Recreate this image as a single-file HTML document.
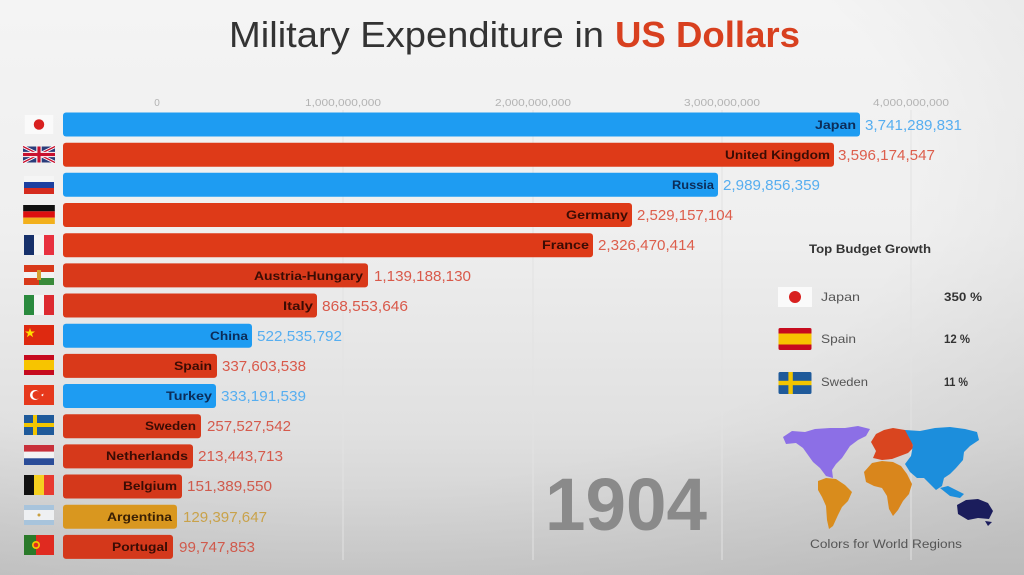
<!DOCTYPE html>
<html><head><meta charset="utf-8">
<style>
html,body{margin:0;padding:0;width:1024px;height:575px;overflow:hidden;}
svg{display:block;font-family:"Liberation Sans",sans-serif;}
</style></head>
<body>
<svg width="1024" height="575" viewBox="0 0 1024 575" xmlns="http://www.w3.org/2000/svg">
<defs>
<linearGradient id="bg" x1="0" y1="0" x2="0" y2="1">
<stop offset="0" stop-color="#f4f4f4"/>
<stop offset="0.4" stop-color="#efefef"/>
<stop offset="0.75" stop-color="#e0e0e0"/>
<stop offset="1" stop-color="#cbcbcb"/>
</linearGradient>
<radialGradient id="vig" cx="0.35" cy="0.3" r="0.9">
<stop offset="0.6" stop-color="#000" stop-opacity="0"/>
<stop offset="1" stop-color="#000" stop-opacity="0.08"/>
</radialGradient>
</defs>
<rect width="1024" height="575" fill="url(#bg)"/>
<rect width="1024" height="575" fill="url(#vig)"/>

<!-- Title -->
<text x="229" y="47" font-size="36" fill="#333" textLength="375" lengthAdjust="spacingAndGlyphs">Military Expenditure in</text>
<text x="615" y="47" font-size="36" font-weight="bold" fill="#d8401f" textLength="185" lengthAdjust="spacingAndGlyphs">US Dollars</text>

<!-- gridlines -->
<g stroke="#e2e2e2" stroke-width="1">
<line x1="343" y1="110" x2="343" y2="560"/>
<line x1="533" y1="110" x2="533" y2="560"/>
<line x1="722" y1="110" x2="722" y2="560"/>
<line x1="911" y1="110" x2="911" y2="560"/>
</g>

<!-- ticks -->
<g font-size="10" fill="#b3b3b3" text-anchor="middle">
<text x="157" y="106">0</text>
<text x="343" y="106" textLength="76" lengthAdjust="spacingAndGlyphs">1,000,000,000</text>
<text x="533" y="106" textLength="76" lengthAdjust="spacingAndGlyphs">2,000,000,000</text>
<text x="722" y="106" textLength="76" lengthAdjust="spacingAndGlyphs">3,000,000,000</text>
<text x="911" y="106" textLength="76" lengthAdjust="spacingAndGlyphs">4,000,000,000</text>
</g>

<!-- Bars -->
<g>
<rect x="63" y="112.5" width="797" height="24" rx="3" fill="#1e9cf2"/>
<rect x="63" y="142.7" width="771" height="24" rx="3" fill="#de3a18"/>
<rect x="63" y="172.8" width="655" height="24" rx="3" fill="#1e9cf2"/>
<rect x="63" y="203.0" width="569" height="24" rx="3" fill="#de3a18"/>
<rect x="63" y="233.2" width="530" height="24" rx="3" fill="#de3a18"/>
<rect x="63" y="263.4" width="305" height="24" rx="3" fill="#d9391a"/>
<rect x="63" y="293.5" width="254" height="24" rx="3" fill="#d9391a"/>
<rect x="63" y="323.7" width="189" height="24" rx="3" fill="#1e9cf2"/>
<rect x="63" y="353.9" width="154" height="24" rx="3" fill="#d9391a"/>
<rect x="63" y="384.0" width="153" height="24" rx="3" fill="#1e9cf2"/>
<rect x="63" y="414.2" width="138" height="24" rx="3" fill="#d6391b"/>
<rect x="63" y="444.4" width="130" height="24" rx="3" fill="#d6391b"/>
<rect x="63" y="474.5" width="119" height="24" rx="3" fill="#d4381b"/>
<rect x="63" y="504.7" width="114" height="24" rx="3" fill="#d9971f"/>
<rect x="63" y="534.9" width="110" height="24" rx="3" fill="#d4381b"/>
</g>

<!-- Bar labels -->
<g font-size="12" font-weight="bold" lengthAdjust="spacingAndGlyphs">
<text x="815" y="129" fill="#0c2c58" textLength="41" lengthAdjust="spacingAndGlyphs">Japan</text>
<text x="725" y="159" fill="#3a0c04" textLength="105" lengthAdjust="spacingAndGlyphs">United Kingdom</text>
<text x="672" y="189" fill="#0c2c58" textLength="42" lengthAdjust="spacingAndGlyphs">Russia</text>
<text x="566" y="219" fill="#3a0c04" textLength="62" lengthAdjust="spacingAndGlyphs">Germany</text>
<text x="542" y="249" fill="#3a0c04" textLength="47" lengthAdjust="spacingAndGlyphs">France</text>
<text x="254" y="280" fill="#3a0c04" textLength="109" lengthAdjust="spacingAndGlyphs">Austria-Hungary</text>
<text x="283" y="310" fill="#3a0c04" textLength="30" lengthAdjust="spacingAndGlyphs">Italy</text>
<text x="210" y="340" fill="#0c2c58" textLength="38" lengthAdjust="spacingAndGlyphs">China</text>
<text x="174" y="370" fill="#3a0c04" textLength="38" lengthAdjust="spacingAndGlyphs">Spain</text>
<text x="166" y="400" fill="#0c2c58" textLength="46" lengthAdjust="spacingAndGlyphs">Turkey</text>
<text x="145" y="430" fill="#3a0c04" textLength="51" lengthAdjust="spacingAndGlyphs">Sweden</text>
<text x="106" y="460" fill="#3a0c04" textLength="82" lengthAdjust="spacingAndGlyphs">Netherlands</text>
<text x="123" y="490" fill="#3a0c04" textLength="54" lengthAdjust="spacingAndGlyphs">Belgium</text>
<text x="107" y="521" fill="#3a2004" textLength="65" lengthAdjust="spacingAndGlyphs">Argentina</text>
<text x="112" y="551" fill="#3a0c04" textLength="56" lengthAdjust="spacingAndGlyphs">Portugal</text>
</g>

<!-- Values -->
<g font-size="15">
<text x="865" y="130" fill="#56aef0" textLength="97" lengthAdjust="spacingAndGlyphs">3,741,289,831</text>
<text x="838" y="160" fill="#dd5e4c" textLength="97" lengthAdjust="spacingAndGlyphs">3,596,174,547</text>
<text x="723" y="190" fill="#56aef0" textLength="97" lengthAdjust="spacingAndGlyphs">2,989,856,359</text>
<text x="637" y="220" fill="#dd5e4c" textLength="96" lengthAdjust="spacingAndGlyphs">2,529,157,104</text>
<text x="598" y="250" fill="#dd5e4c" textLength="97" lengthAdjust="spacingAndGlyphs">2,326,470,414</text>
<text x="374" y="281" fill="#d9594a" textLength="97" lengthAdjust="spacingAndGlyphs">1,139,188,130</text>
<text x="322" y="311" fill="#d9594a" textLength="86" lengthAdjust="spacingAndGlyphs">868,553,646</text>
<text x="257" y="341" fill="#56aef0" textLength="85" lengthAdjust="spacingAndGlyphs">522,535,792</text>
<text x="222" y="371" fill="#d9594a" textLength="84" lengthAdjust="spacingAndGlyphs">337,603,538</text>
<text x="221" y="401" fill="#56aef0" textLength="85" lengthAdjust="spacingAndGlyphs">333,191,539</text>
<text x="207" y="431" fill="#d55a4c" textLength="84" lengthAdjust="spacingAndGlyphs">257,527,542</text>
<text x="198" y="461" fill="#d55a4c" textLength="85" lengthAdjust="spacingAndGlyphs">213,443,713</text>
<text x="187" y="491" fill="#d05a4c" textLength="85" lengthAdjust="spacingAndGlyphs">151,389,550</text>
<text x="183" y="522" fill="#c9a24a" textLength="84" lengthAdjust="spacingAndGlyphs">129,397,647</text>
<text x="179" y="552" fill="#d05a4c" textLength="76" lengthAdjust="spacingAndGlyphs">99,747,853</text>
</g>

<!-- Flags -->
<!-- Japan -->
<svg x="23" y="115" width="32" height="19" viewBox="0 0 30 20"><rect width="30" height="20" fill="#fafafa"/><circle cx="15" cy="10" r="5.5" fill="#d8201f"/></svg>
<!-- UK -->
<svg x="23" y="145" width="32" height="19" viewBox="0 0 60 30"><rect width="60" height="30" fill="#2a3c7a"/><path d="M0,0 L60,30 M60,0 L0,30" stroke="#fff" stroke-width="6"/><path d="M0,0 L60,30 M60,0 L0,30" stroke="#c8102e" stroke-width="2.5"/><path d="M30,0 V30 M0,15 H60" stroke="#fff" stroke-width="10"/><path d="M30,0 V30 M0,15 H60" stroke="#c8102e" stroke-width="6"/></svg>
<!-- Russia -->
<svg x="23" y="176" width="32" height="18" viewBox="0 0 30 18"><rect width="30" height="6" fill="#f5f5f5"/><rect y="6" width="30" height="6" fill="#1c3fa0"/><rect y="12" width="30" height="6" fill="#d52b1e"/></svg>
<!-- Germany -->
<svg x="23" y="205" width="32" height="19" viewBox="0 0 30 18"><rect width="30" height="6" fill="#111"/><rect y="6" width="30" height="6" fill="#dd1010"/><rect y="12" width="30" height="6" fill="#f2b01c"/></svg>
<!-- France -->
<svg x="23" y="235" width="32" height="20" viewBox="0 0 30 20"><rect width="10" height="20" fill="#16306a"/><rect x="10" width="10" height="20" fill="#f5f5f5"/><rect x="20" width="10" height="20" fill="#e8313f"/></svg>
<!-- Austria-Hungary -->
<svg x="23" y="265" width="32" height="20" viewBox="0 0 30 20"><rect width="15" height="20" fill="#d8391a"/><rect y="7" width="15" height="6" fill="#f3f3f3"/><rect x="15" width="15" height="7" fill="#d8391a"/><rect x="15" y="7" width="15" height="6" fill="#f3f3f3"/><rect x="15" y="13" width="15" height="7" fill="#3a8a3a"/><rect x="13" y="5" width="4" height="10" fill="#d4a030"/></svg>
<!-- Italy -->
<svg x="23" y="295" width="32" height="20" viewBox="0 0 30 20"><rect width="10" height="20" fill="#2a8a3e"/><rect x="10" width="10" height="20" fill="#f5f5f5"/><rect x="20" width="10" height="20" fill="#dd2a30"/></svg>
<!-- China -->
<svg x="23" y="325" width="32" height="20" viewBox="0 0 30 20"><rect width="30" height="20" fill="#de2910"/><polygon points="6,3 7.2,6.5 11,6.5 8,8.7 9.1,12.2 6,10 2.9,12.2 4,8.7 1,6.5 4.8,6.5" fill="#ffde00"/></svg>
<!-- Spain -->
<svg x="23" y="355" width="32" height="20" viewBox="0 0 30 20"><rect width="30" height="20" fill="#c60b1e"/><rect y="5" width="30" height="10" fill="#f7c400"/></svg>
<!-- Turkey -->
<svg x="23" y="385" width="32" height="20" viewBox="0 0 30 20"><rect width="30" height="20" fill="#e6391c"/><circle cx="11" cy="10" r="5" fill="#fff"/><circle cx="12.5" cy="10" r="4" fill="#e6391c"/><polygon points="17,10 19.5,8.6 19,11.4" fill="#fff"/></svg>
<!-- Sweden -->
<svg x="23" y="415" width="32" height="20" viewBox="0 0 30 20"><rect width="30" height="20" fill="#1f5a9a"/><rect x="9" width="4" height="20" fill="#f2c500"/><rect y="8" width="30" height="4" fill="#f2c500"/></svg>
<!-- Netherlands -->
<svg x="23" y="445" width="32" height="20" viewBox="0 0 30 20"><rect width="30" height="6.7" fill="#c8303a"/><rect y="6.7" width="30" height="6.6" fill="#f3f3f3"/><rect y="13.3" width="30" height="6.7" fill="#2a4c98"/></svg>
<!-- Belgium -->
<svg x="23" y="475" width="32" height="20" viewBox="0 0 30 20"><rect width="10" height="20" fill="#111"/><rect x="10" width="10" height="20" fill="#f5d020"/><rect x="20" width="10" height="20" fill="#e83a30"/></svg>
<!-- Argentina -->
<svg x="23" y="505" width="32" height="20" viewBox="0 0 30 20"><rect width="30" height="20" fill="#eef0f2"/><rect width="30" height="5" fill="#a8c4dc"/><rect y="15" width="30" height="5" fill="#a8c4dc"/><circle cx="15" cy="10" r="1.5" fill="#c9a040"/></svg>
<!-- Portugal -->
<svg x="23" y="535" width="32" height="20" viewBox="0 0 30 20"><rect width="30" height="20" fill="#e02a20"/><rect width="12" height="20" fill="#2a7a2a"/><circle cx="12" cy="10" r="4" fill="#f2c500"/><circle cx="12" cy="10" r="2.3" fill="#e02a20"/></svg>

<!-- Right panel -->
<text x="809" y="253" font-size="12" font-weight="bold" fill="#333" textLength="122" lengthAdjust="spacingAndGlyphs">Top Budget Growth</text>
<svg x="778" y="287" width="34" height="20" viewBox="0 0 34 20"><rect width="34" height="20" fill="#fafafa"/><circle cx="17" cy="10" r="6" fill="#d8201f"/></svg>
<text x="821" y="301" font-size="12" fill="#555" textLength="39" lengthAdjust="spacingAndGlyphs">Japan</text>
<text x="944" y="301" font-size="12" font-weight="bold" fill="#333" textLength="38" lengthAdjust="spacingAndGlyphs">350 %</text>
<svg x="778" y="328" width="34" height="22" viewBox="0 0 30 20"><rect width="30" height="20" rx="1.5" fill="#c60b1e"/><rect y="5" width="30" height="10" fill="#f7c400"/></svg>
<text x="821" y="343" font-size="12" fill="#555" textLength="35" lengthAdjust="spacingAndGlyphs">Spain</text>
<text x="944" y="343" font-size="12" font-weight="bold" fill="#333" textLength="26" lengthAdjust="spacingAndGlyphs">12 %</text>
<svg x="778" y="372" width="34" height="22" viewBox="0 0 30 20"><rect width="30" height="20" rx="1.5" fill="#1f5a9a"/><rect x="9" width="4" height="20" fill="#f2c500"/><rect y="8" width="30" height="4" fill="#f2c500"/></svg>
<text x="821" y="386" font-size="12" fill="#555" textLength="47" lengthAdjust="spacingAndGlyphs">Sweden</text>
<text x="944" y="386" font-size="12" font-weight="bold" fill="#333" textLength="24" lengthAdjust="spacingAndGlyphs">11 %</text>

<!-- World map -->
<g>
<polygon fill="#8c6fe6" points="783,437 792,431 805,432 815,429 830,428 845,428 858,426 870,429 866,436 858,440 850,446 846,452 842,458 836,464 832,470 833,478 826,476 820,468 813,462 808,455 803,448 796,443 786,444"/>
<polygon fill="#d98c1c" points="818,481 826,478 836,479 845,485 852,492 848,501 842,507 838,515 833,526 829,529 827,520 826,506 822,497 818,490"/>
<polygon fill="#d9451f" points="871,442 876,434 884,430 893,428 905,430 912,433 913,448 908,453 900,456 892,459 882,460 873,458 876,451"/>
<polygon fill="#d9861c" points="864,472 872,463 882,461 893,462 901,466 907,474 912,484 909,494 903,501 898,510 893,516 889,509 887,496 882,488 874,486 866,482"/>
<polygon fill="#1c8edc" points="905,430 920,431 935,428 950,427 965,429 977,432 979,440 970,446 964,452 963,460 956,468 950,474 944,478 942,486 936,490 930,484 924,478 917,478 910,472 905,464 911,456 913,445"/>
<polygon fill="#1c8edc" points="940,488 948,486 956,490 964,494 960,498 950,496"/>
<polygon fill="#1b1d5c" points="957,505 966,500 978,499 988,503 993,511 989,519 978,518 968,520 958,514"/>
<polygon fill="#1b1d5c" points="985,521 992,522 988,526"/>
</g>
<text x="810" y="548" font-size="11.5" fill="#555" textLength="152" lengthAdjust="spacingAndGlyphs">Colors for World Regions</text>

<!-- Year -->
<text x="545" y="530" font-size="74" font-weight="bold" fill="#8a8a8a" textLength="162" lengthAdjust="spacingAndGlyphs">1904</text>
</svg>
</body></html>
